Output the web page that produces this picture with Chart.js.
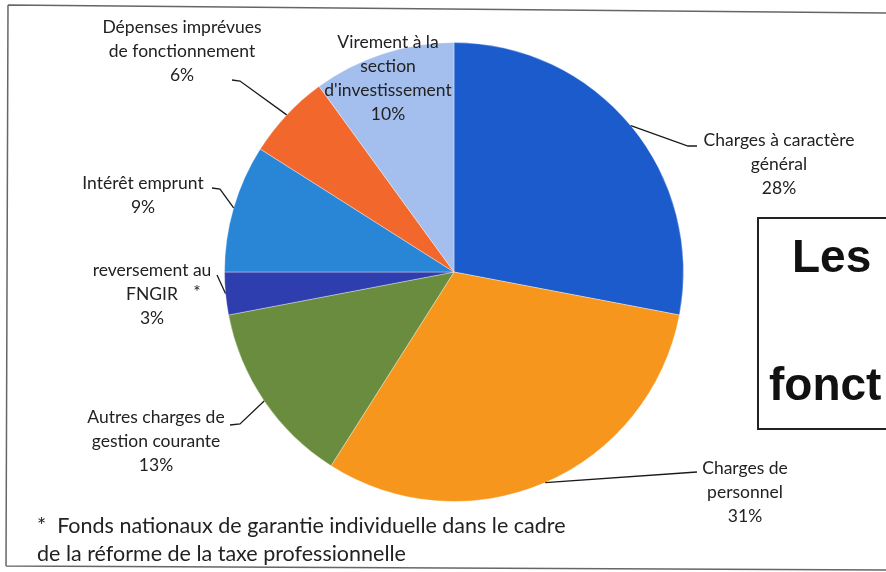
<!DOCTYPE html>
<html>
<head>
<meta charset="utf-8">
<script src="https://cdn.jsdelivr.net/npm/chart.js@4"></script>
<style>
  html, body { margin: 0; padding: 0; background: #fff; }
  #wrap { position: relative; width: 886px; height: 572px; overflow: hidden; }
  #pieGraph { position: absolute; left: 0; top: 0; }
  .note { position: absolute; left: 37px; font-family: Lato, sans-serif; font-size: 21.5px; color: #222; white-space: nowrap; }
  #box { position: absolute; left: 757px; top: 217px; width: 200px; height: 209px; border: 2px solid #222; }
  .big { position: absolute; font-family: "Liberation Sans", Arial, sans-serif; font-weight: bold; font-size: 46px; color: #111; white-space: nowrap; }
</style>
</head>
<body>
<div id="wrap">
  <canvas id="pieGraph" width="886" height="572"></canvas>
  <div id="box"></div>
  <div class="big" style="left:792px; top:229px;">Les</div>
  <div class="big" style="left:769px; top:357px;">fonct</div>
  <div class="note" style="top:512px;">* &nbsp;Fonds nationaux de garantie individuelle dans le cadre</div>
  <div class="note" style="top:540px;">de la réforme de la taxe professionnelle</div>
</div>
<script>
// donnees du graphique (budget de fonctionnement)
var categories = [
    'Charges à caractère général',
    'Charges de personnel',
    'Autres charges de gestion courante',
    'reversement au FNGIR',
    'Intérêt emprunt',
    'Dépenses imprévues de fonctionnement',
    "Virement à la section d'investissement"
];
var values = [28, 31, 13, 3, 9, 6, 10];
var colors = ['#1b5bcc', '#f7961c', '#6a8c3e', '#2f3eae', '#2985d6', '#f2682c', '#a4bfee'];

// texte des etiquettes, coupe comme sur le graphique
var labelLines = [
    ['Charges à caractère', 'général'],
    ['Charges de', 'personnel'],
    ['Autres charges de', 'gestion courante'],
    ['reversement au', 'FNGIR'],
    ['Intérêt emprunt'],
    ['Dépenses imprévues', 'de fonctionnement'],
    ['Virement à la', 'section', "d'investissement"]
];
// centre x, y de la premiere ligne
var labelPos = [[779, 140], [745, 468], [156, 417], [152, 270], [143, 183], [182, 27], [388, 42]];
// points du trait de rappel cote etiquette
var leaderPts = [
    [[697, 146], [688, 146]],
    [[697, 472]],
    [[230, 425], [240, 424]],
    [[217, 275]],
    [[212, 188], [220, 189]],
    [[232, 80], [240, 81]],
    null
];

var labelPlugin = {
    id: 'pieLabels',
    beforeDraw: function(chart) {
        var c = chart.ctx;
        c.save();
        c.strokeStyle = '#666';
        c.lineWidth = 1.5;
        c.beginPath();
        c.moveTo(8, 5); c.lineTo(886, 13);
        c.moveTo(8, 5); c.lineTo(6, 566);
        c.moveTo(6, 566); c.lineTo(886, 570);
        c.stroke();
        c.restore();
    },
    afterDatasetsDraw: function(chart) {
        var c = chart.ctx;
        var meta = chart.getDatasetMeta(0);
        c.save();
        meta.data.forEach(function(arc, i) {
            var p = arc.getProps(['x', 'y', 'startAngle', 'endAngle', 'outerRadius'], true);
            var mid = (p.startAngle + p.endAngle) / 2;
            var ex = p.x + Math.cos(mid) * p.outerRadius;
            var ey = p.y + Math.sin(mid) * p.outerRadius;
            if (leaderPts[i]) {
                c.strokeStyle = '#1a1a1a';
                c.lineWidth = 1.3;
                c.beginPath();
                c.moveTo(leaderPts[i][0][0], leaderPts[i][0][1]);
                for (var k = 1; k < leaderPts[i].length; k++) c.lineTo(leaderPts[i][k][0], leaderPts[i][k][1]);
                c.lineTo(ex, ey);
                c.stroke();
            }
            var lines = labelLines[i].concat([values[i] + '%']);
            c.fillStyle = '#222';
            c.font = '17.5px Lato, sans-serif';
            c.textAlign = 'center';
            c.textBaseline = 'middle';
            lines.forEach(function(t, j) {
                c.fillText(t, labelPos[i][0], labelPos[i][1] + j * 24);
            });
            if (i === 3) c.fillText('*', labelPos[i][0] + 45, labelPos[i][1] + 22);
        });
        c.restore();
    }
};

var ctx = document.getElementById('pieGraph').getContext('2d');

var myPieChart = new Chart(ctx, {
    type: 'pie',
    data: {
        labels: categories,
        datasets: [{
            data: values,
            backgroundColor: colors,
            borderColor: 'rgba(255, 255, 255, 0.35)',
            borderWidth: 1
        }]
    },
    options: {
        responsive: false,
        animation: false,
        layout: {
            padding: { top: 42, bottom: 70, left: 224, right: 202 }
        },
        plugins: {
            legend: { display: false },
            tooltip: { enabled: false }
        }
    },
    plugins: [labelPlugin]
});
</script>
</body>
</html>
